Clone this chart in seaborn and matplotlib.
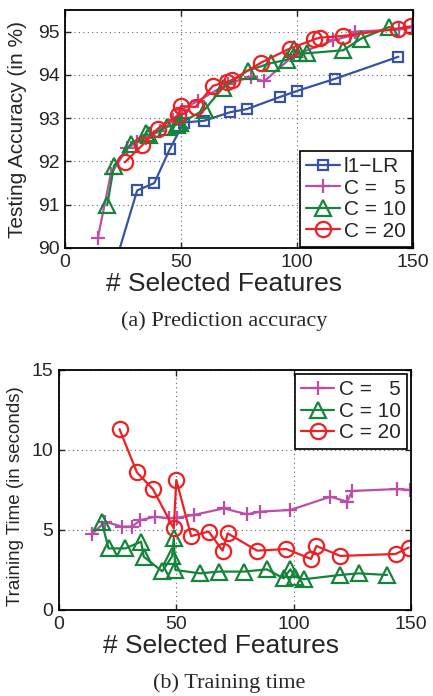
import matplotlib
matplotlib.use('Agg')
import matplotlib.pyplot as plt
import seaborn as sns
import pandas as pd

# (a) accuracy data
lr_x = [20, 31.1, 38.5, 45.2, 51.2, 59.9, 71.3, 78.4, 92.6, 100, 116.4, 143.7]
lr_acc = [89.35, 91.33, 91.5, 92.29, 92.9, 92.94, 93.14, 93.21, 93.49, 93.63, 93.91, 94.42]

c5_x = [14.1, 19.7, 26.8, 31.1, 34.7, 41.0, 46.7, 50.3, 57.4, 70.2, 80.1, 85.8, 98.6, 115.6, 122.8, 124.9, 144.1, 149.7]
c5_acc = [90.22, 91.7, 92.3, 92.45, 92.55, 92.7, 92.95, 93.2, 93.4, 93.8, 93.95, 93.85, 94.45, 94.8, 94.9, 95.0, 95.05, 95.1]
c5_time = [4.75, 5.52, 5.21, 5.21, 5.62, 5.83, 5.73, 5.77, 5.94, 6.35, 5.98, 6.15, 6.25, 7.08, 6.77, 7.44, 7.56, 7.5]

c10_x = [18.2, 21.1, 28.3, 35.0, 36.1, 44.0, 48.2, 48.9, 49.6, 60.2, 68.0, 78.7, 88.6, 95.7, 98.6, 100.7, 104.3, 119.9, 127.7, 139.8]
c10_acc = [90.99, 91.9, 92.4, 92.65, 92.6, 92.8, 92.85, 92.9, 92.88, 93.2, 93.7, 94.1, 94.27, 94.35, 94.6, 94.5, 94.5, 94.57, 94.84, 95.11]
c10_time = [5.52, 3.85, 3.85, 4.27, 3.33, 2.42, 3.35, 4.5, 2.5, 2.29, 2.4, 2.4, 2.54, 1.98, 2.54, 2.08, 1.92, 2.19, 2.29, 2.19]

c20_x = [25.8, 33.2, 40.0, 48.9, 50.0, 56.3, 63.8, 69.7, 71.9, 84.4, 96.9, 107.4, 109.7, 119.9, 143.4, 149.0]
c20_acc = [91.98, 92.37, 92.76, 93.07, 93.28, 93.26, 93.75, 93.84, 93.88, 94.28, 94.61, 94.82, 94.86, 94.9, 95.07, 95.12]
c20_time = [11.3, 8.6, 7.56, 5.1, 8.12, 4.62, 4.9, 3.71, 4.79, 3.71, 3.81, 3.19, 4.0, 3.38, 3.5, 3.9]

blue = '#3953a4'
magenta = '#bb4fa6'
green = '#16843a'
red = '#ee2024'

sns.set_style('white')
plt.rcParams['font.family'] = ['Liberation Sans', 'DejaVu Sans']

fig = plt.figure(figsize=(4.33, 6.96), dpi=100)
ax1 = fig.add_axes([65 / 433, 1 - 248 / 696, 348 / 433, 238 / 696])
ax2 = fig.add_axes([59 / 433, 1 - 610 / 696, 352 / 433, 240 / 696])

line_kw = dict(sort=False, estimator=None, linewidth=1.6, markerfacecolor='none', markeredgewidth=1.6)

def draw(ax, x, y, color, marker, ms, label):
    df = pd.DataFrame({'x': x, 'y': y})
    sns.lineplot(data=df, x='x', y='y', ax=ax, color=color, marker=marker,
                 markersize=ms, markeredgecolor=color, label=label, **line_kw)

draw(ax1, lr_x, lr_acc, blue, 's', 7, 'l1\u2212LR')
draw(ax1, c5_x, c5_acc, magenta, '+', 10, 'C =   5')
draw(ax1, c10_x, c10_acc, green, '^', 11, 'C = 10')
draw(ax1, c20_x, c20_acc, red, 'o', 11, 'C = 20')

draw(ax2, c5_x, c5_time, magenta, '+', 10, 'C =   5')
draw(ax2, c10_x, c10_time, green, '^', 11, 'C = 10')
draw(ax2, c20_x, c20_time, red, 'o', 11, 'C = 20')

ax1.set_xlim(0, 150)
ax1.set_ylim(90, 95.5)
ax1.set_xticks([0, 50, 100, 150])
ax1.set_yticks([90, 91, 92, 93, 94, 95])
ax1.set_ylabel('Testing Accuracy (in %)', fontsize=15)
ax1.yaxis.set_label_coords(-0.11, 0.5)
ax1.set_xlabel('# Selected Features', fontsize=19)
ax1.xaxis.set_label_coords(0.457, -0.1)

ax2.set_xlim(0, 150)
ax2.set_ylim(0, 15)
ax2.set_xticks([0, 50, 100, 150])
ax2.set_yticks([0, 5, 10, 15])
ax2.set_ylabel('Training Time (in seconds)', fontsize=13.5)
ax2.yaxis.set_label_coords(-0.1, 0.475)
ax2.set_xlabel('# Selected Features', fontsize=19)
ax2.xaxis.set_label_coords(0.46, -0.098)

for ax in (ax1, ax2):
    ax.grid(True, linestyle=(0, (1, 3)), color='#666666', linewidth=0.8)
    ax.tick_params(direction='in', labelsize=14, length=4, width=1, pad=4,
                   top=True, right=True, bottom=True, left=True)
    for s in ax.spines.values():
        s.set_linewidth(1.3)
        s.set_color('black')

leg_kw = dict(fontsize=15, handlelength=1.6, handletextpad=0.2, labelspacing=0.12,
              borderpad=0.3, fancybox=False, edgecolor='black', framealpha=1)
leg1 = ax1.legend(loc='lower right', borderaxespad=0.05, **leg_kw)
leg1.get_frame().set_linewidth(1.2)
leg2 = ax2.legend(loc='upper right', borderaxespad=0.2, **leg_kw)
leg2.get_frame().set_linewidth(1.2)

fig.text(224 / 433, 1 - 321 / 696, '(a) Prediction accuracy', ha='center', va='center',
         fontsize=16, family='Liberation Serif')
fig.text(229 / 433, 1 - 683 / 696, '(b) Training time', ha='center', va='center',
         fontsize=16, family='Liberation Serif')

fig.savefig('out.png', dpi=100)
